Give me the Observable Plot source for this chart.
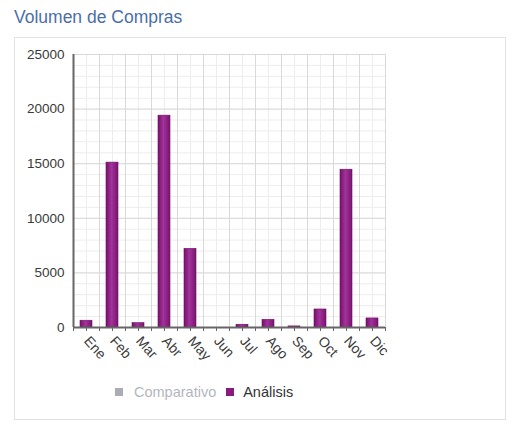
<!DOCTYPE html>
<html>
<head>
<meta charset="utf-8">
<script src="https://cdn.jsdelivr.net/npm/d3@7"></script>
<script src="https://cdn.jsdelivr.net/npm/@observablehq/plot@0.6"></script>
<style>
  html, body { margin: 0; padding: 0; background: #fff; width: 520px; height: 440px; overflow: hidden; font-family: "Liberation Sans", Arial, sans-serif; }
  #title { position: absolute; left: 14px; top: 7px; font-size: 17.5px; color: #4a6ea8; white-space: nowrap; }
  #panel { position: absolute; left: 14px; top: 37px; width: 490px; height: 381px; border: 1px solid #e2e2e2; }
  #chart { position: absolute; left: 0; top: 40px; }
  #legend { position: absolute; left: 115px; top: 384px; font-size: 14.5px; white-space: nowrap; display: flex; align-items: center; }
  .sw { display: inline-block; width: 8px; height: 8px; margin-right: 11px; }
</style>
</head>
<body>
<div id="title">Volumen de Compras</div>
<div id="panel"></div>
<div id="chart"></div>
<div id="legend">
  <span class="sw" style="background:#a9adb3"></span><span style="color:#b3b7bd;margin-right:10px">Comparativo</span>
  <span class="sw" style="background:#8b1a7f;margin-right:9px"></span><span style="color:#333">Análisis</span>
</div>
<script>
const months = ["Ene","Feb","Mar","Abr","May","Jun","Jul","Ago","Sep","Oct","Nov","Dic"];
const analisis = [620, 15100, 400, 19400, 7200, 0, 250, 700, 100, 1650, 14450, 830];
const yTicks = [0, 5000, 10000, 15000, 20000, 25000];

const data = months.map((m, i) => ({month: m, i, value: analisis[i]}));
const minorY = d3.range(0, 25001, 1000);
const bounds = d3.range(0, months.length + 1);
const centers = months.map((m, i) => i + 0.5);
const halfTicks = d3.range(0, months.length + 0.01, 0.5);

const gradientDefs = () => {
  const svg = d3.create("svg:g");
  const g = svg.append("defs").append("linearGradient")
    .attr("id", "barGrad").attr("x1", "0").attr("x2", "1").attr("y1", "0").attr("y2", "0");
  g.append("stop").attr("offset", "0%").attr("stop-color", "#76106b");
  g.append("stop").attr("offset", "45%").attr("stop-color", "#a2339a");
  g.append("stop").attr("offset", "100%").attr("stop-color", "#7a136f");
  return svg.node();
};

const chart = Plot.plot({
  width: 400,
  height: 340,
  marginLeft: 73,
  marginRight: 15,
  marginTop: 14,
  marginBottom: 53,
  style: {fontFamily: "'Liberation Sans', Arial, sans-serif", background: "transparent"},
  x: {type: "linear", domain: [0, months.length], label: null},
  y: {domain: [0, 25000], label: null},
  marks: [
    gradientDefs,
    Plot.ruleY(minorY, {stroke: "#ededed", strokeWidth: 1}),
    Plot.ruleX(centers, {stroke: "#ededed", strokeWidth: 1}),
    Plot.ruleY(yTicks, {stroke: "#d9d9d9", strokeWidth: 1}),
    Plot.ruleX(bounds, {stroke: "#d9d9d9", strokeWidth: 1}),
    Plot.rectY(data, {x1: "i", x2: d => d.i + 1, y: "value", insetLeft: 7, insetRight: 7, fill: "url(#barGrad)", stroke: "#6e0f64", strokeWidth: 0.6}),
    Plot.axisY({ticks: yTicks, tickSize: 0, tickPadding: 9, tickFormat: d => String(d), fontSize: 13.5, color: "#3a3a3a", label: null}),
    Plot.axisX({ticks: halfTicks, tickSize: 4, tickFormat: () => "", stroke: "#666", label: null}),
    Plot.axisX({ticks: centers, tickSize: 0, tickPadding: 11, tickRotate: 48, tickFormat: d => months[Math.floor(d)], fontSize: 14, color: "#3a3a3a", label: null}),
    Plot.ruleX([0], {stroke: "#666", strokeWidth: 2}),
    Plot.ruleY([0], {stroke: "#666", strokeWidth: 2})
  ]
});
document.getElementById("chart").appendChild(chart);
</script>
</body>
</html>
